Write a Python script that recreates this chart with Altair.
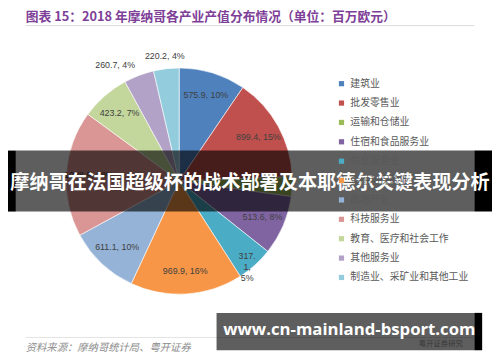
import altair as alt
import pandas as pd

categories = ["建筑业", "批发零售业", "运输和仓储业", "住宿和食品服务业", "信息服务业",
              "金融和保险业", "房地产业", "科技服务业", "教育、医疗和社会工作",
              "其他服务业", "制造业、采矿业和其他工业"]
values = [575.9, 899.4, 170.0, 513.6, 317.1, 969.9, 611.1, 1088.9, 423.2, 260.7, 220.2]
percents = [10, 15, 3, 8, 5, 16, 10, 18, 7, 4, 4]
colors = ["#4F81BD", "#C0504D", "#9BBB59", "#8064A2", "#4BACC6", "#F79646",
          "#95B3D7", "#D99694", "#C3D69B", "#B3A2C7", "#93CDDD"]

title_text = "图表 15：2018 年摩纳哥各产业产值分布情况（单位：百万欧元）"
source_text = "资料来源：摩纳哥统计局、粤开证券"
logo_text = "粤开证券研究"
banner_text = "摩纳哥在法国超级杯的战术部署及本耶德尔关键表现分析"
url_text = "www.cn-mainland-bsport.com"

outside_center = ["制造业、采矿业和其他工业"]
outside_right = ["其他服务业"]
wrapped = ["信息服务业"]
hidden = ["运输和仓储业"]

rows = []
for i, (c, v, p) in enumerate(zip(categories, values, percents)):
    lab = f"{v}, {p}%"
    rows.append({
        "idx": i, "category": c, "value": v,
        "lab_in": lab if c not in outside_center + outside_right + wrapped + hidden else "",
        "lab_oc": lab if c in outside_center else "",
        "lab_or": lab if c in outside_right else "",
        "lab_w": (f"{v}"[:4] + "\n" + f"{v}"[4:] + ",\n" + f"{p}%") if c in wrapped else "",
    })
df = pd.DataFrame(rows)

CX, CY, R = 174, 173, 115
FONT_CJK = "Noto Sans CJK SC"

base = alt.Chart(df).encode(
    theta=alt.Theta("value:Q", stack=True),
    order=alt.Order("idx:Q"),
    x=alt.value(CX), y=alt.value(CY),
)

arcs = base.mark_arc(outerRadius=R, stroke="white", strokeWidth=0.6).encode(
    color=alt.Color("category:N", sort=categories,
                    scale=alt.Scale(domain=categories, range=colors),
                    legend=alt.Legend(
                        title=None, orient="none", legendX=334, legendY=69,
                        direction="vertical", symbolType="square", symbolSize=28,
                        symbolStrokeWidth=0, labelFont=FONT_CJK, labelFontSize=10,
                        labelColor="#595959", rowPadding=9.7, labelOffset=4,
                        padding=0, labelLimit=200)),
)

lab_style = dict(font="Liberation Sans", fontSize=9, color="#404040")
t_in = base.mark_text(radius=92, **lab_style).encode(text="lab_in:N")
t_oc = base.mark_text(radius=128, **lab_style).encode(text="lab_oc:N")
t_or = base.mark_text(radius=126, align="right", **lab_style).encode(text="lab_or:N")
t_w = base.mark_text(radius=103, lineBreak="\n", lineHeight=11, **lab_style).encode(text="lab_w:N")

deco = pd.DataFrame({"k": [0]})
dc = alt.Chart(deco)

title = dc.mark_text(align="left", baseline="middle", font=FONT_CJK, fontSize=13,
                     fontWeight="bold", color="#7E3F98").encode(
    x=alt.value(18), y=alt.value(6), text=alt.value(title_text))
tline = dc.mark_rule(color="#D9D9D9", strokeWidth=1).encode(
    x=alt.value(18), x2=alt.value(474), y=alt.value(15))
sline = dc.mark_rule(color="#E3E3E3", strokeWidth=1).encode(
    x=alt.value(18), x2=alt.value(474), y=alt.value(332))
source = dc.mark_text(align="left", baseline="middle", font=FONT_CJK, fontSize=10.5,
                      fontStyle="italic", color="#8C8C8C").encode(
    x=alt.value(18), y=alt.value(343), text=alt.value(source_text))
logo = dc.mark_text(align="center", baseline="middle", font=FONT_CJK, fontSize=7.5,
                    color="#9A9A9A").encode(
    x=alt.value(440), y=alt.value(339), text=alt.value(logo_text))

band_grey = dc.mark_rect(color="black", opacity=0.63).encode(
    x=alt.value(8), x2=alt.value(474), y=alt.value(142), y2=alt.value(204))
band_l = dc.mark_rect(color="black").encode(
    x=alt.value(0), x2=alt.value(8), y=alt.value(142), y2=alt.value(204))
band_r = dc.mark_rect(color="black").encode(
    x=alt.value(474), x2=alt.value(492), y=alt.value(142), y2=alt.value(204))
band_text = dc.mark_text(align="center", baseline="middle", font=FONT_CJK, fontSize=19.5,
                         fontWeight="bold", color="white").encode(
    x=alt.value(246), y=alt.value(175), text=alt.value(banner_text))

url_grey = dc.mark_rect(color="black", opacity=0.63).encode(
    x=alt.value(212), x2=alt.value(474), y=alt.value(307), y2=alt.value(345))
url_r = dc.mark_rect(color="black").encode(
    x=alt.value(474), x2=alt.value(482), y=alt.value(307), y2=alt.value(345))
url = dc.mark_text(align="center", baseline="middle", font="Open Sans", fontSize=17,
                   fontWeight="bold", color="white").encode(
    x=alt.value(347), y=alt.value(324), text=alt.value(url_text))

chart = alt.layer(
    title, tline, arcs, t_in, t_oc, t_or, t_w, sline, source, logo,
    band_grey, band_l, band_r, band_text, url_grey, url_r, url,
).properties(
    width=492, height=354, padding=0,
    autosize=alt.AutoSizeParams(type="none"),
    background="white",
).configure_view(stroke=None)

chart.save("out.html", embed_options={"renderer": "svg", "actions": False})
